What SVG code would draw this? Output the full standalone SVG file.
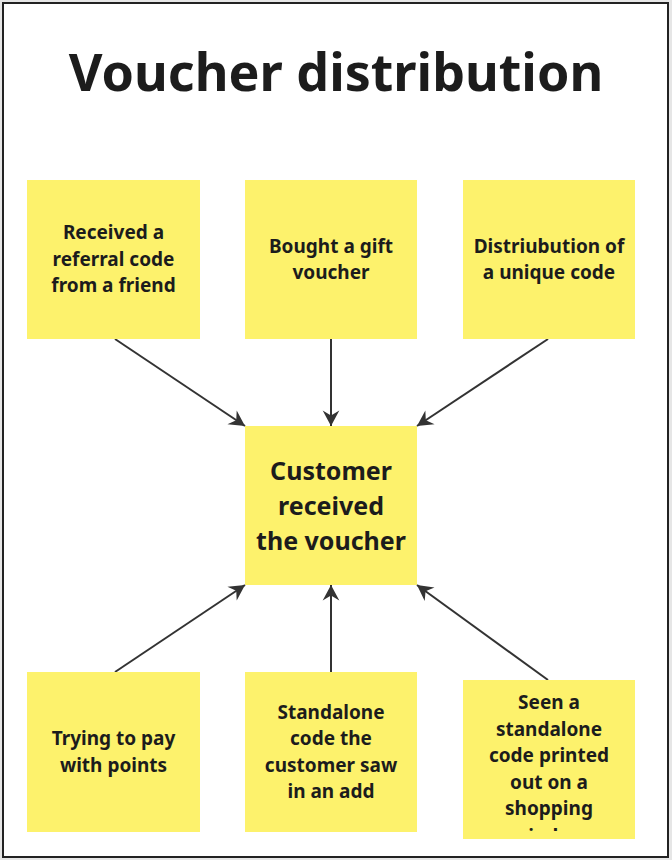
<svg xmlns="http://www.w3.org/2000/svg" width="672" height="860" viewBox="0 0 672 860">
  <style>
    .note { fill: #fdf26c; }
    .t { font-family: "Noto Sans", "Open Sans", "DejaVu Sans", sans-serif; font-weight: 700; fill: #1c1c1c; text-anchor: middle; }
    .s { font-size: 19px; }
    .m { font-size: 25px; }
    .title { font-size: 52px; }
    .conn { stroke: #333333; stroke-width: 2; fill: none; marker-end: url(#arrow); }
  </style>
  <defs>
    <marker id="arrow" markerUnits="userSpaceOnUse" markerWidth="20" markerHeight="20" viewBox="-15 -9 17 18" refX="0" refY="0" orient="auto">
      <path d="M0,0 L-14,-7.5 L-9.5,0 L-14,7.5 Z" fill="#333333"/>
    </marker>
    <clipPath id="clipSeen">
      <rect x="463" y="680" width="172" height="151"/>
    </clipPath>
  </defs>
  <rect x="0" y="0" width="672" height="860" fill="#e6e6e6"/>
  <rect x="3" y="3" width="665" height="854" fill="#ffffff" stroke="#222222" stroke-width="2"/>

  <g id="title">
    <text class="t title" x="336" y="91">Voucher distribution</text>
  </g>

  <g id="connectors">
    <line class="conn" x1="115" y1="339" x2="245" y2="426"/>
    <line class="conn" x1="331" y1="339" x2="331" y2="426"/>
    <line class="conn" x1="548" y1="339" x2="417" y2="426"/>
    <line class="conn" x1="115" y1="672" x2="245" y2="585"/>
    <line class="conn" x1="331" y1="672" x2="331" y2="585"/>
    <line class="conn" x1="548" y1="680" x2="417" y2="585"/>
  </g>

  <g id="node-referral">
    <rect class="note" x="27" y="180" width="173" height="159"/>
    <text class="t s" x="113.5" y="239.2">Received a</text>
    <text class="t s" x="113.5" y="265.8">referral code</text>
    <text class="t s" x="113.5" y="292.4">from a friend</text>
  </g>

  <g id="node-gift">
    <rect class="note" x="245" y="180" width="172" height="159"/>
    <text class="t s" x="331" y="252.7">Bought a gift</text>
    <text class="t s" x="331" y="279.3">voucher</text>
  </g>

  <g id="node-unique">
    <rect class="note" x="463" y="180" width="172" height="159"/>
    <text class="t s" x="549" y="252.7">Distriubution of</text>
    <text class="t s" x="549" y="279.3">a unique code</text>
  </g>

  <g id="node-customer">
    <rect class="note" x="245" y="426" width="172" height="159"/>
    <text class="t m" x="331" y="480">Customer</text>
    <text class="t m" x="331" y="515">received</text>
    <text class="t m" x="331" y="550">the voucher</text>
  </g>

  <g id="node-points">
    <rect class="note" x="27" y="672" width="173" height="160"/>
    <text class="t s" x="113.5" y="745.2">Trying to pay</text>
    <text class="t s" x="113.5" y="771.8">with points</text>
  </g>

  <g id="node-ad">
    <rect class="note" x="245" y="672" width="172" height="160"/>
    <text class="t s" x="331" y="718.6">Standalone</text>
    <text class="t s" x="331" y="745.2">code the</text>
    <text class="t s" x="331" y="771.8">customer saw</text>
    <text class="t s" x="331" y="798.4">in an add</text>
  </g>

  <g id="node-printed">
    <rect class="note" x="463" y="680" width="172" height="159"/>
    <g clip-path="url(#clipSeen)">
      <text class="t s" x="549" y="709">Seen a</text>
      <text class="t s" x="549" y="735.6">standalone</text>
      <text class="t s" x="549" y="762.2">code printed</text>
      <text class="t s" x="549" y="788.8">out on a</text>
      <text class="t s" x="549" y="815.4">shopping</text>
      <text class="t s" x="549" y="843">window</text>
    </g>
  </g>
</svg>
